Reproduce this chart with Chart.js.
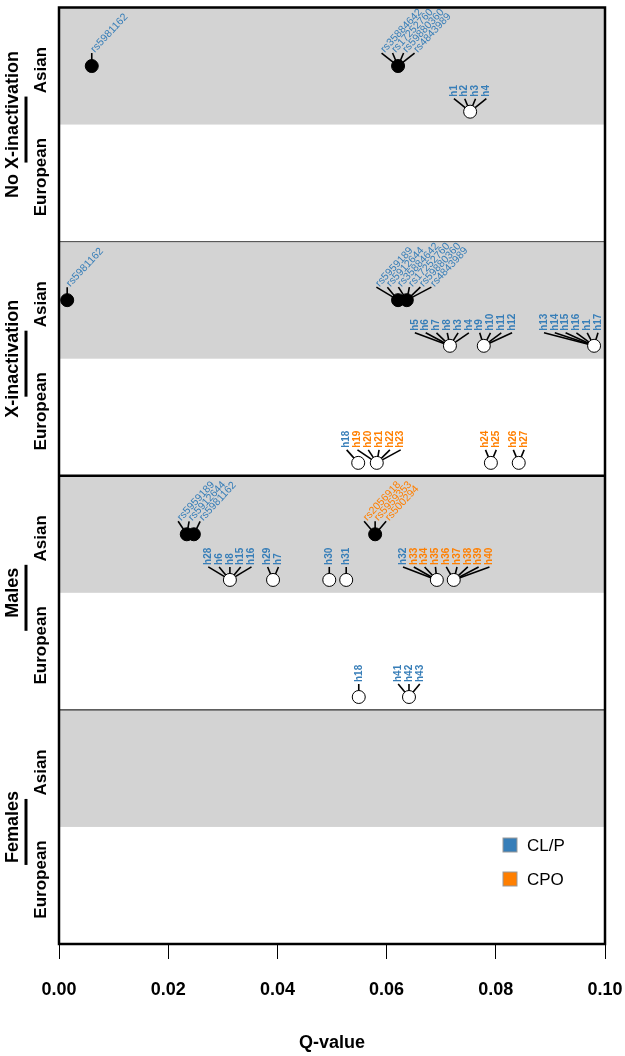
<!DOCTYPE html>
<html>
<head>
<meta charset="utf-8">
<script src="https://cdn.jsdelivr.net/npm/chart.js@4.4.1/dist/chart.umd.min.js"></script>
<style>
  html, body { margin: 0; padding: 0; background: #fff; }
  #wrap { width: 625px; height: 1056px; position: relative; }
</style>
</head>
<body>
<div id="wrap"><canvas id="qChart"></canvas></div>
<script>
const groupNames = ["No X-inactivation", "X-inactivation", "Males", "Females"];
const popNames = ["Asian", "European"];
const xTicks = [0, 0.02, 0.04, 0.06, 0.08, 0.1];
const traitNames = ["CL/P", "CPO"];
const traitColors = ["#377EB8", "#FF7F00"];

// single SNPs (filled dots)
const snpGroup = [0, 0, 1, 1, 1, 2, 2, 2];
const snpPop = [0, 0, 0, 0, 0, 0, 0, 0];
const snpQ = [0.0060, 0.0621, 0.0015, 0.0621, 0.0637, 0.0234, 0.0247, 0.0579];
const snpTrait = [0, 0, 0, 0, 0, 0, 0, 1];
const snpLabels = [
  ["rs5981162"],
  ["rs35884642", "rs17252760", "rs59880360", "rs4843989"],
  ["rs5981162"],
  ["rs5959189", "rs5912644"],
  ["rs35884642", "rs17252760", "rs59880360", "rs4843989"],
  ["rs5959189", "rs5912644"],
  ["rs5981162"],
  ["rs2056918", "rs5959353", "rs500294"]
];

// haplotypes (open circles)
const hapGroup = [0, 1, 1, 1, 1, 1, 1, 1, 2, 2, 2, 2, 2, 2, 2, 2];
const hapPop = [0, 0, 0, 0, 1, 1, 1, 1, 0, 0, 0, 0, 0, 0, 1, 1];
const hapQ = [0.0753, 0.0716, 0.0778, 0.0980, 0.0548, 0.0582, 0.0791, 0.0842,
              0.0313, 0.0392, 0.0495, 0.0526, 0.0692, 0.0723, 0.0549, 0.0641];
const hapLabels = [
  ["h1", "h2", "h3", "h4"],
  ["h5", "h6", "h7", "h8", "h3", "h4"],
  ["h9", "h10", "h11", "h12"],
  ["h13", "h14", "h15", "h16", "h1", "h17"],
  ["h18"],
  ["h19", "h20", "h21", "h22", "h23"],
  ["h24", "h25"],
  ["h26", "h27"],
  ["h28", "h6", "h8", "h15", "h16"],
  ["h29", "h7"],
  ["h30"],
  ["h31"],
  ["h32", "h33", "h34", "h35"],
  ["h36", "h37", "h38", "h39", "h40"],
  ["h18"],
  ["h41", "h42", "h43"]
];
// haplotypes associated with CPO (rest are CL/P)
const hapCPO = ["h19", "h20", "h21", "h22", "h23", "h24", "h25", "h26", "h27",
                "h33", "h34", "h35", "h36", "h37", "h38", "h39", "h40"];

const FONT = '"Liberation Sans", Arial, sans-serif';
const NROWS = groupNames.length * popNames.length;

function rowTop(g, p) { return NROWS - (g * 2 + p); }
function snpY(i) { return rowTop(snpGroup[i], snpPop[i]) - 0.5; }
function hapY(i) { return rowTop(hapGroup[i], hapPop[i]) - 0.89; }

// spread labels along a row so they don't overlap (keep as close to the point as possible)
function spread(targets, gap, lo, hi) {
  const clusters = [];
  targets.forEach(t => {
    let c = { n: 1, sum: t };
    c.start = Math.min(Math.max(c.sum / c.n, lo), hi - (c.n - 1) * gap);
    while (clusters.length) {
      const prev = clusters[clusters.length - 1];
      if (prev.start + prev.n * gap <= c.start) break;
      clusters.pop();
      const n = prev.n + c.n;
      const sum = prev.sum + c.sum - c.n * prev.n * gap;
      c = { n: n, sum: sum };
      c.start = Math.min(Math.max(c.sum / c.n, lo), hi - (c.n - 1) * gap);
    }
    clusters.push(c);
  });
  const out = [];
  clusters.forEach(c => { for (let k = 0; k < c.n; k++) out.push(c.start + k * gap); });
  return out;
}

function drawRowLabels(chart, idxs, qArr, yFn, labArr, colorFn, kind) {
  const { ctx, chartArea: a, scales: { x, y } } = chart;
  idxs.sort((i, j) => qArr[i] - qArr[j]);
  const items = [];
  idxs.forEach(i => {
    const px = x.getPixelForValue(qArr[i]);
    const py = y.getPixelForValue(yFn(i));
    labArr[i].forEach(t => items.push({ px, py, text: t, color: colorFn(i, t) }));
  });
  if (!items.length) return;
  const gap = kind === "snp" ? 11 : 10.8;
  const pos = spread(items.map(it => it.px), gap, a.left + 7, a.right - 7);
  ctx.save();
  ctx.strokeStyle = "#000";
  ctx.lineWidth = 1.6;
  items.forEach((it, k) => {
    ctx.beginPath();
    ctx.moveTo(it.px, it.py);
    ctx.lineTo(pos[k], it.py - 13);
    ctx.stroke();
  });
  items.forEach((it, k) => {
    ctx.save();
    ctx.fillStyle = it.color;
    ctx.textAlign = "left";
    ctx.textBaseline = "middle";
    if (kind === "snp") {
      ctx.font = "10.5px " + FONT;
      ctx.translate(pos[k] + 1, it.py - 15);
      ctx.rotate(-47 * Math.PI / 180);
    } else {
      ctx.font = "bold 10px " + FONT;
      ctx.translate(pos[k], it.py - 15);
      ctx.rotate(-Math.PI / 2);
    }
    ctx.fillText(it.text, 0, 0);
    ctx.restore();
  });
  ctx.restore();
}

const panelPlugin = {
  id: "panels",
  beforeDatasetsDraw(chart) {
    const { ctx, chartArea: a, scales: { y } } = chart;
    ctx.save();
    ctx.fillStyle = "#d3d3d3";
    groupNames.forEach((g, gi) => {
      const t = y.getPixelForValue(rowTop(gi, 0));
      const b = y.getPixelForValue(rowTop(gi, 0) - 1);
      ctx.fillRect(a.left, t, a.right - a.left, b - t);
    });
    ctx.restore();

    for (let g = 0; g < groupNames.length; g++) {
      for (let p = 0; p < popNames.length; p++) {
        const sIdx = snpQ.map((v, i) => i).filter(i => snpGroup[i] === g && snpPop[i] === p);
        drawRowLabels(chart, sIdx, snpQ, snpY, snpLabels, i => traitColors[snpTrait[i]], "snp");
        const hIdx = hapQ.map((v, i) => i).filter(i => hapGroup[i] === g && hapPop[i] === p);
        drawRowLabels(chart, hIdx, hapQ, hapY, hapLabels,
          (i, t) => traitColors[hapCPO.includes(t) ? 1 : 0], "hap");
      }
    }
  },
  afterDraw(chart) {
    const { ctx, chartArea: a, scales: { y } } = chart;
    ctx.save();
    // panel separators
    const seps = [[rowTop(1, 0), 1, "#444"], [rowTop(2, 0), 2.5, "#000"], [rowTop(3, 0), 1, "#000"]];
    seps.forEach(([v, w, c]) => {
      const py = y.getPixelForValue(v);
      ctx.strokeStyle = c;
      ctx.lineWidth = w;
      ctx.beginPath();
      ctx.moveTo(a.left, py);
      ctx.lineTo(a.right, py);
      ctx.stroke();
    });
    ctx.strokeStyle = "#000";
    ctx.lineWidth = 2.5;
    ctx.strokeRect(a.left, a.top, a.right - a.left, a.bottom - a.top);

    // group / population labels on the left
    ctx.fillStyle = "#000";
    ctx.textAlign = "center";
    ctx.textBaseline = "middle";
    groupNames.forEach((g, gi) => {
      const t = y.getPixelForValue(rowTop(gi, 0));
      const b = y.getPixelForValue(rowTop(gi, 1) - 1);
      const c = (t + b) / 2;
      ctx.save();
      ctx.translate(13, c);
      ctx.rotate(-Math.PI / 2);
      ctx.font = "bold 18px " + FONT;
      ctx.fillText(g, 0, 0);
      ctx.restore();

      ctx.lineWidth = 3;
      ctx.beginPath();
      ctx.moveTo(26, c - 28);
      ctx.lineTo(26, c + 38);
      ctx.stroke();

      popNames.forEach((p, pi) => {
        const pt = y.getPixelForValue(rowTop(gi, pi));
        const pb = y.getPixelForValue(rowTop(gi, pi) - 1);
        ctx.save();
        ctx.translate(41, (pt + pb) / 2 + (pi === 0 ? 4 : -6));
        ctx.rotate(-Math.PI / 2);
        ctx.font = "bold 17px " + FONT;
        ctx.fillText(p, 0, 0);
        ctx.restore();
      });
    });

    // legend
    traitNames.forEach((t, i) => {
      const ly = 838 + i * 34;
      ctx.fillStyle = traitColors[i];
      ctx.fillRect(503, ly, 14, 14);
      ctx.strokeStyle = "#999";
      ctx.lineWidth = 1;
      ctx.strokeRect(503, ly, 14, 14);
      ctx.fillStyle = "#000";
      ctx.textAlign = "left";
      ctx.font = "17px " + FONT;
      ctx.fillText(t, 527, ly + 8);
    });
    ctx.restore();
  }
};

new Chart(document.getElementById("qChart"), {
  type: "scatter",
  data: {
    datasets: [
      {
        label: "SNP",
        data: snpQ.map((q, i) => ({ x: q, y: snpY(i) })),
        pointRadius: 6.5,
        pointBackgroundColor: "#000",
        pointBorderColor: "#000",
        pointBorderWidth: 1
      },
      {
        label: "Haplotype",
        data: hapQ.map((q, i) => ({ x: q, y: hapY(i) })),
        pointRadius: 6.5,
        pointBackgroundColor: "#fff",
        pointBorderColor: "#000",
        pointBorderWidth: 1
      }
    ]
  },
  options: {
    responsive: true,
    maintainAspectRatio: false,
    animation: false,
    layout: { padding: { left: 59, right: 20, top: 5, bottom: 0 } },
    plugins: { legend: { display: false }, tooltip: { enabled: false } },
    scales: {
      x: {
        type: "linear",
        min: 0,
        max: 0.1,
        afterBuildTicks: s => { s.ticks = xTicks.map(v => ({ value: v })); },
        afterFit: s => { s.height = 112; s.paddingLeft = 0; s.paddingRight = 0; },
        ticks: {
          callback: v => v.toFixed(2),
          font: { family: FONT, size: 18, weight: "bold" },
          color: "#000",
          padding: 20,
          maxRotation: 0,
          autoSkip: false
        },
        grid: { drawOnChartArea: false, drawTicks: true, tickLength: 15, color: "#000", lineWidth: 1 },
        border: { display: false },
        title: {
          display: true,
          text: "Q-value",
          color: "#000",
          font: { family: FONT, size: 18, weight: "bold" },
          padding: { top: 0, bottom: 2 }
        }
      },
      y: { display: false, min: 0, max: NROWS }
    }
  },
  plugins: [panelPlugin]
});
</script>
</body>
</html>
